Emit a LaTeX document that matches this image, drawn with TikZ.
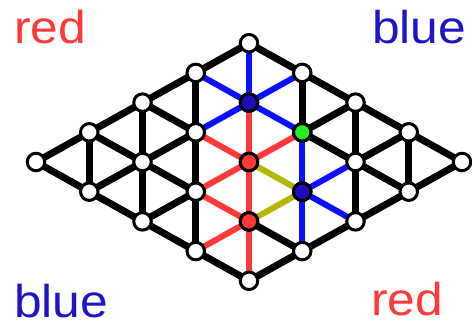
\documentclass[tikz,border=0pt]{standalone}
\usepackage{fontspec}
\setmainfont{Liberation Sans}
\newfontfamily\lblfont[FakeStretch=1.08]{Liberation Sans}
\definecolor{cred}{RGB}{255,56,56}
\definecolor{cblue}{RGB}{8,16,255}
\definecolor{dblue}{RGB}{30,14,190}
\definecolor{tblue}{RGB}{30,20,200}
\definecolor{colive}{RGB}{180,182,0}
\definecolor{cgreen}{RGB}{34,238,34}
\pgfdeclarelayer{bg}
\pgfsetlayers{bg,main}
\begin{document}
\begin{tikzpicture}[x=1pt,y=-1pt,
  vtx/.style={circle,draw=black,line width=3pt,fill=white,minimum size=17.5pt,inner sep=0pt},
  blk/.style={line width=7pt,draw=black},
  coledge/.style={line width=6pt,preaction={draw=white,line width=8pt}},
  lbl/.style={anchor=base west,inner sep=0pt,text depth=0pt,font=\lblfont\fontsize{46}{50}\selectfont}]
\useasboundingbox (0,0) rectangle (472,324);
% vertices
\foreach \i in {0,...,4}{
  \foreach \j in {0,...,4}{
    \node[vtx] (v\i\j) at ({36+53.25*(\i+\j)},{162-29.7*(\i-\j)}) {};
  }
}
% coloured vertices
\node[vtx,fill=dblue] at (v31) {};
\node[vtx,fill=cgreen] at (v32) {};
\node[vtx,fill=cred] at (v22) {};
\node[vtx,fill=dblue] at (v23) {};
\node[vtx,fill=cred] at (v13) {};
\begin{pgfonlayer}{bg}
% black edges
\foreach \i in {0,...,3}{
  \foreach \j in {0,...,4}{
    \pgfmathtruncatemacro\ii{\i+1}
    \draw[blk] (v\i\j.center) -- (v\ii\j.center);
    \draw[blk] (v\j\i.center) -- (v\j\ii.center);
  }
}
\foreach \i in {0,...,3}{
  \foreach \j in {1,...,4}{
    \pgfmathtruncatemacro\ii{\i+1}
    \pgfmathtruncatemacro\jj{\j-1}
    \draw[blk] (v\i\j.center) -- (v\ii\jj.center);
  }
}
% blue edges
\foreach \a/\b in {31/41,31/21,31/32,31/30,31/40,23/33,23/24,23/32,23/14}{
  \draw[coledge,draw=cblue] (v\a.center) -- (v\b.center);
}
% red edges
\foreach \a/\b in {31/22,22/32,22/12,22/21,22/13,13/03,13/12,13/04}{
  \draw[coledge,draw=cred] (v\a.center) -- (v\b.center);
}
% olive edges
\foreach \a/\b in {22/23,13/23}{
  \draw[coledge,draw=colive] (v\a.center) -- (v\b.center);
}
\end{pgfonlayer}
% labels
\node[lbl,text=cred] (tl) at (14,43) {red};
\node[lbl,text=tblue] (tr) at (372,43) {blue};
\node[lbl,text=tblue] (bl) at (14,317) {blue};
\node[lbl,text=cred] (br) at (371,315) {red};
\end{tikzpicture}
\end{document}
